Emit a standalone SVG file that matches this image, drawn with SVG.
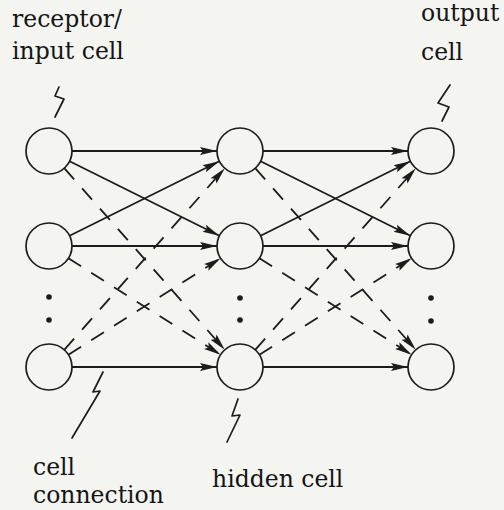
<svg xmlns="http://www.w3.org/2000/svg" width="504" height="510" viewBox="0 0 504 510">
<style>
.bg{fill:#f4f4f1}
.cell{fill:none;stroke:#1c1c1c;stroke-width:1.7}
.dot{fill:#1c1c1c}
.c{fill:none;stroke:#1c1c1c;stroke-width:1.8;marker-end:url(#ah)}
.d{stroke-dasharray:15 12}
.bolt{fill:none;stroke:#1c1c1c;stroke-width:1.7;stroke-linejoin:round;stroke-linecap:round}
text{font-family:"DejaVu Serif","Liberation Serif",serif;font-size:23.5px;fill:#151515}
</style>
<defs>
<marker id="ah" markerUnits="userSpaceOnUse" markerWidth="18" markerHeight="10" refX="17" refY="5" orient="auto">
<path d="M0,1 L17,5 L0,9 L3,5 z" fill="#1c1c1c"/>
</marker>
</defs>
<rect class="bg" x="0" y="0" width="504" height="510"/>

<g id="connectors">
<!-- input to hidden -->
<line class="c" x1="72" y1="151" x2="217" y2="151"/>
<line class="c" x1="72" y1="246" x2="217" y2="246"/>
<line class="c" x1="72" y1="367" x2="217" y2="367"/>
<line class="c" x1="69.6" y1="161.2" x2="219.4" y2="235.8"/>
<line class="c" x1="69.6" y1="235.8" x2="219.4" y2="161.2"/>
<line class="c d" x1="64.2" y1="168.2" x2="224.8" y2="349.8"/>
<line class="c d" x1="64.2" y1="349.8" x2="224.8" y2="168.2"/>
<line class="c d" x1="68.4" y1="258.3" x2="220.6" y2="354.7"/>
<line class="c d" x1="68.4" y1="354.7" x2="220.6" y2="258.3"/>
<!-- hidden to output -->
<line class="c" x1="263" y1="151" x2="408" y2="151"/>
<line class="c" x1="263" y1="246" x2="408" y2="246"/>
<line class="c" x1="263" y1="367" x2="408" y2="367"/>
<line class="c" x1="260.6" y1="161.2" x2="410.4" y2="235.8"/>
<line class="c" x1="260.6" y1="235.8" x2="410.4" y2="161.2"/>
<line class="c d" x1="255.2" y1="168.2" x2="415.8" y2="349.8"/>
<line class="c d" x1="255.2" y1="349.8" x2="415.8" y2="168.2"/>
<line class="c d" x1="259.4" y1="258.3" x2="411.6" y2="354.7"/>
<line class="c d" x1="259.4" y1="354.7" x2="411.6" y2="258.3"/>
</g>

<g id="input1"><circle class="cell" cx="49" cy="151" r="23"/></g>
<g id="input2"><circle class="cell" cx="49" cy="246" r="23"/></g>
<g id="input3"><circle class="cell" cx="49" cy="367" r="23"/></g>
<g id="hidden1"><circle class="cell" cx="240" cy="151" r="23"/></g>
<g id="hidden2"><circle class="cell" cx="240" cy="246" r="23"/></g>
<g id="hidden3"><circle class="cell" cx="240" cy="367" r="23"/></g>
<g id="output1"><circle class="cell" cx="431" cy="151" r="23"/></g>
<g id="output2"><circle class="cell" cx="431" cy="246" r="23"/></g>
<g id="output3"><circle class="cell" cx="431" cy="367" r="23"/></g>

<g id="dots">
<circle class="dot" cx="49" cy="297" r="2.8"/>
<circle class="dot" cx="49" cy="320" r="2.8"/>
<circle class="dot" cx="240" cy="298" r="2.8"/>
<circle class="dot" cx="240" cy="320" r="2.8"/>
<circle class="dot" cx="431" cy="298" r="2.8"/>
<circle class="dot" cx="431" cy="321" r="2.8"/>
</g>

<g id="bolts">
<polyline class="bolt" points="59,87 55,96 64,99 55,117"/>
<polyline class="bolt" points="450,85 438,103 449,107 442,121"/>
<polyline class="bolt" points="103,372 93,392 100,391 72,438"/>
<polyline class="bolt" points="238,399 232,416 240,415 227,442"/>
</g>

<g id="labels">
<text x="12" y="27">receptor/</text>
<text x="12" y="59">input cell</text>
<text x="421" y="21">output</text>
<text x="421" y="60">cell</text>
<text x="33" y="475">cell</text>
<text x="33" y="503">connection</text>
<text x="212" y="487">hidden cell</text>
</g>
</svg>
